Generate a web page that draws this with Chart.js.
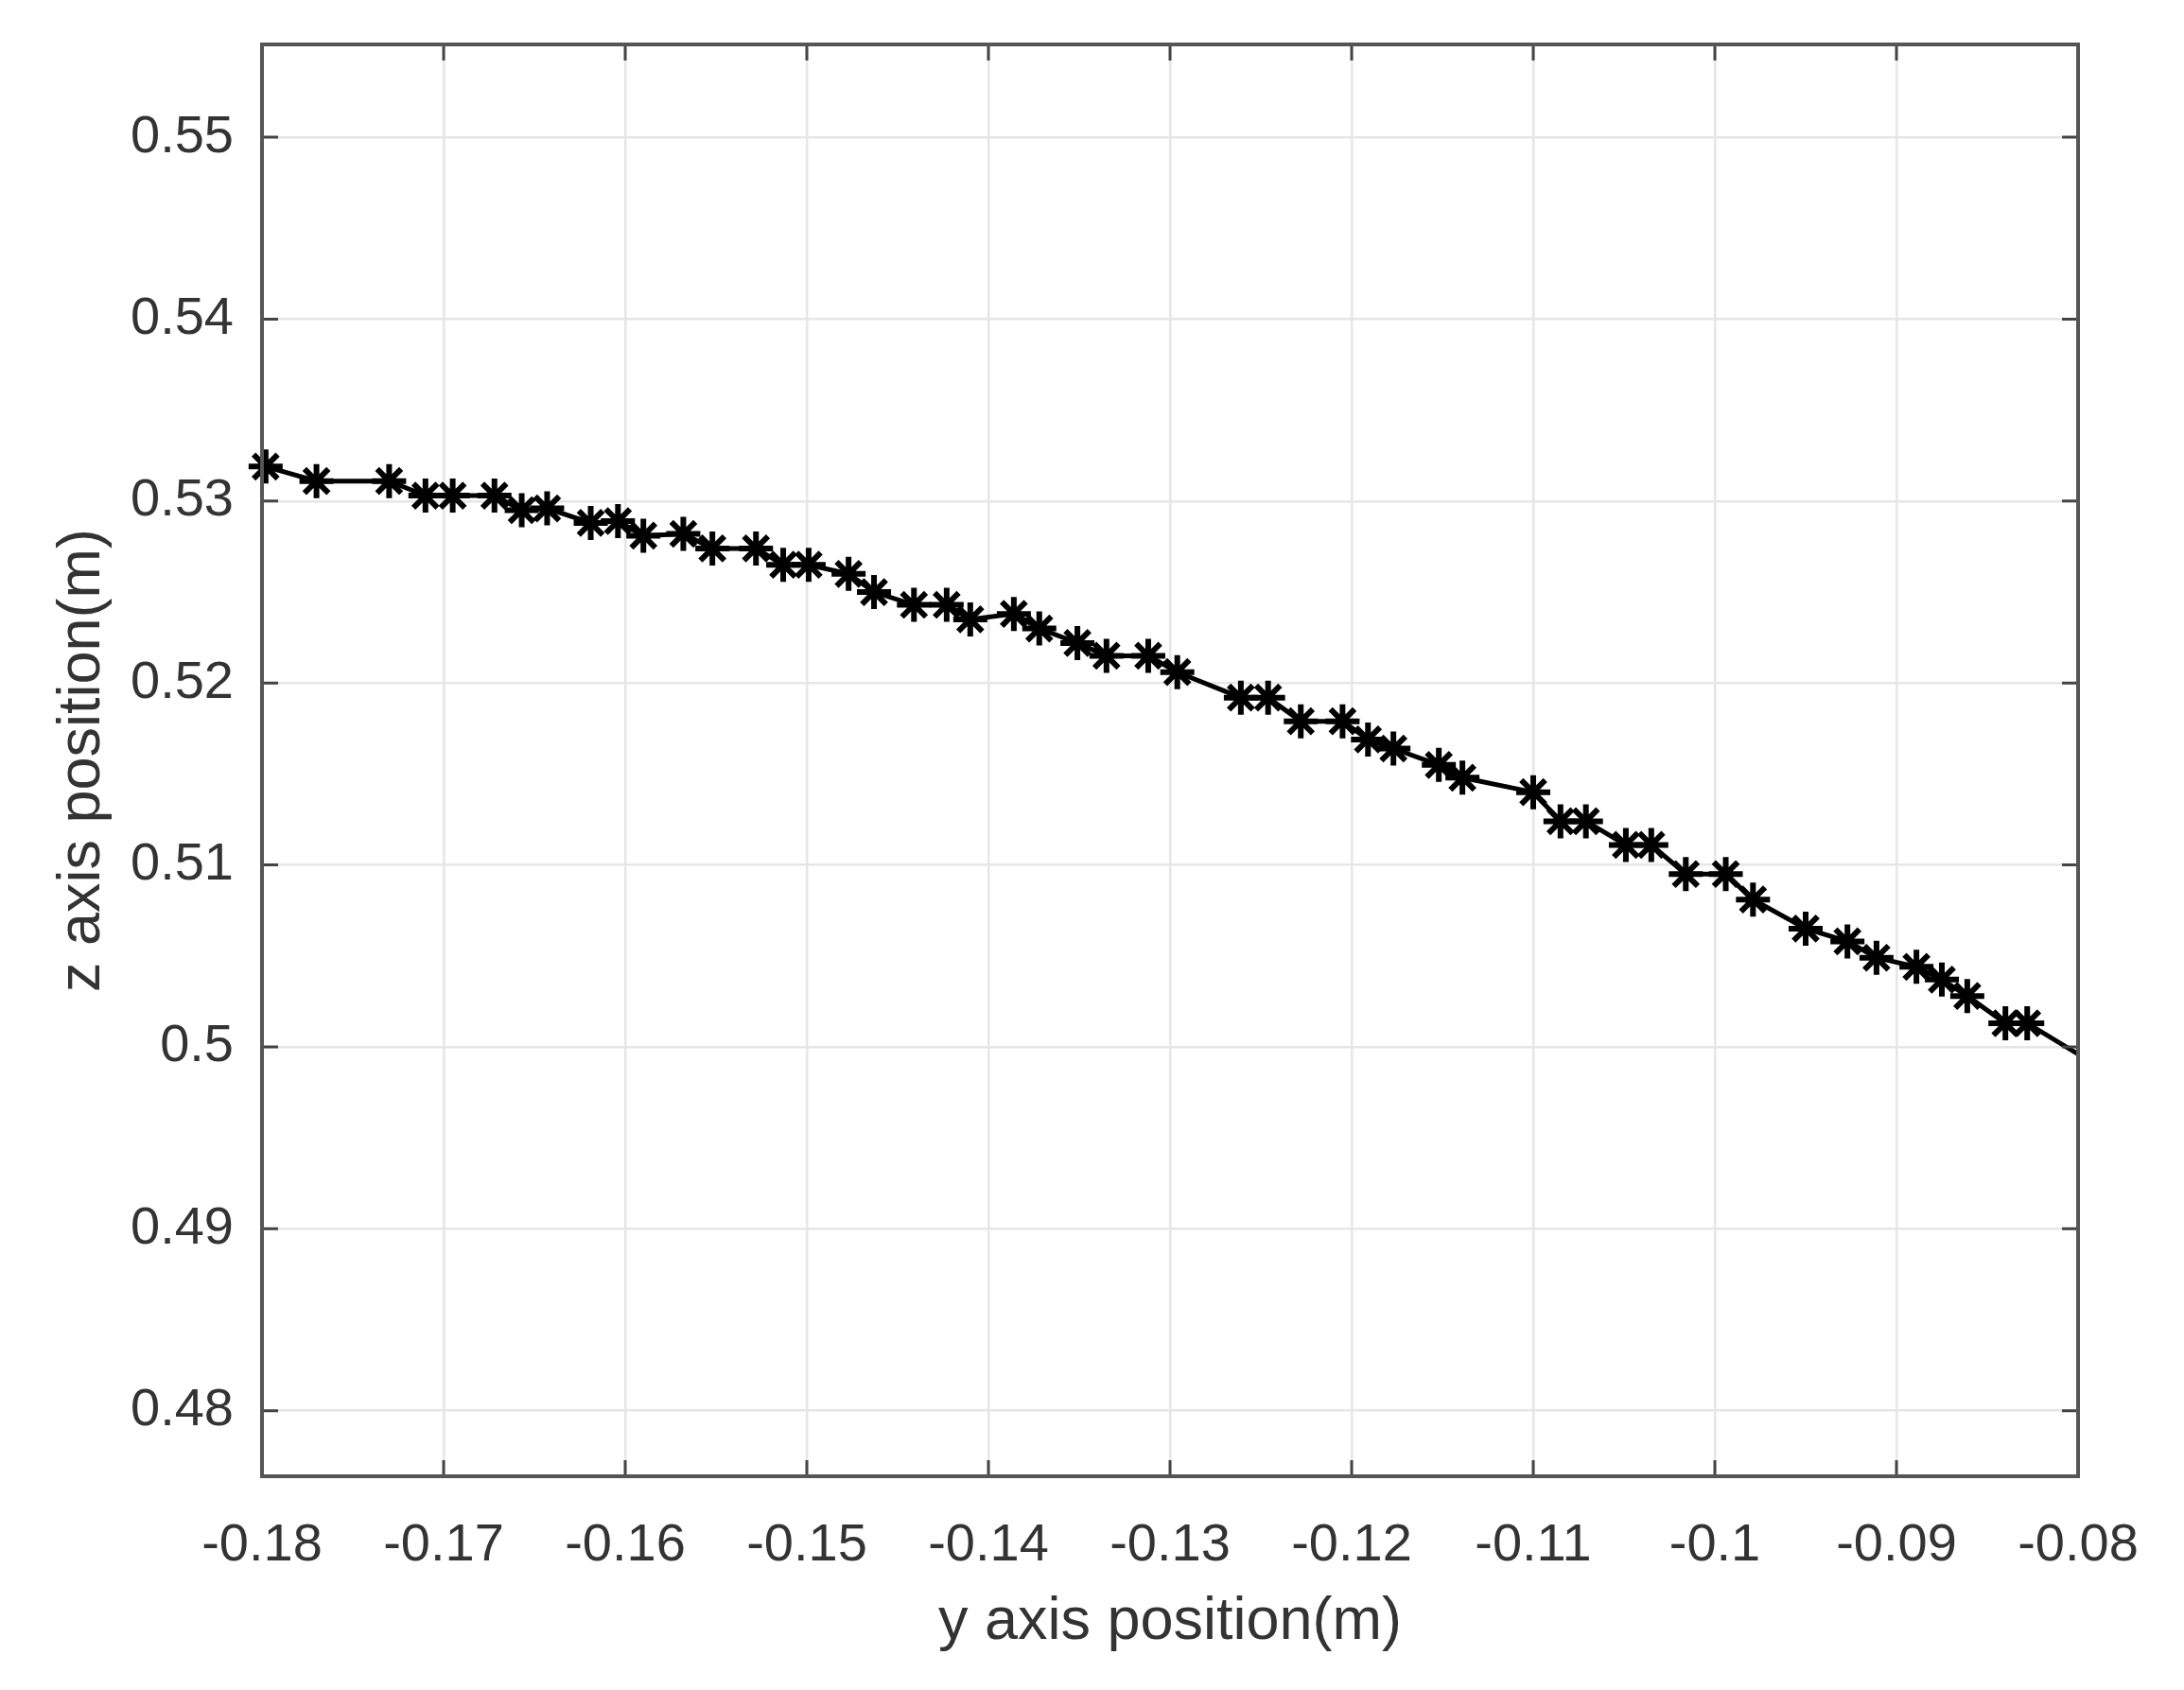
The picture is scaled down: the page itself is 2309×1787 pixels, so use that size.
<!DOCTYPE html>
<html>
  <head>
    <title>y-z position</title>
    <style>
      body { margin: 0; background: #fff; }
      canvas { display: block; }
    </style>
    <script src="https://cdn.jsdelivr.net/npm/chart.js"></script>
  </head>
  <body>
    <canvas id="chart" width="2309" height="1787"></canvas>

    <script>
      // y axis position (m) of each sample
      var yPos = [
        -0.1798, -0.1770, -0.1730, -0.1710, -0.1695, -0.1672, -0.1657, -0.1643,
        -0.1619, -0.1604, -0.1590, -0.1568, -0.1552, -0.1528, -0.1513, -0.1499,
        -0.1477, -0.1463, -0.1441, -0.1423, -0.1410, -0.1386, -0.1372, -0.1351,
        -0.1335, -0.1312, -0.1296, -0.1261, -0.1246, -0.1228, -0.1205, -0.1191,
        -0.1177, -0.1152, -0.1139, -0.1100, -0.1085, -0.1071, -0.1049, -0.1035,
        -0.1016, -0.0994, -0.0979, -0.0950, -0.0927, -0.0911, -0.0889, -0.0875,
        -0.0861, -0.0840, -0.0828, -0.0790
      ];
      // z axis position (m) of each sample
      var zPos = [
        0.5319, 0.5311, 0.5311, 0.5303, 0.5303, 0.5303, 0.5295, 0.5296,
        0.5288, 0.5289, 0.5281, 0.5282, 0.5274, 0.5274, 0.5265, 0.5265,
        0.5260, 0.5250, 0.5243, 0.5243, 0.5235, 0.5238, 0.5230, 0.5222,
        0.5215, 0.5215, 0.5206, 0.5192, 0.5192, 0.5179, 0.5179, 0.5169,
        0.5164, 0.5155, 0.5148, 0.5140, 0.5124, 0.5124, 0.5111, 0.5111,
        0.5095, 0.5095, 0.5081, 0.5065, 0.5058, 0.5049, 0.5044, 0.5037,
        0.5028, 0.5013, 0.5013, 0.4990
      ];
      var xTicks = [-0.18, -0.17, -0.16, -0.15, -0.14, -0.13, -0.12, -0.11, -0.1, -0.09, -0.08];
      var yTicks = [0.48, 0.49, 0.5, 0.51, 0.52, 0.53, 0.54, 0.55];

      var points = yPos.map(function (v, i) {
        return { x: v, y: zPos[i] };
      });

      var textColor = "#333";
      var fontFamily = "'Liberation Sans', Arial, sans-serif";

      // MATLAB style box with inward ticks on all four sides
      var boxTicks = {
        id: "boxTicks",
        afterDraw: function (chart) {
          var ctx = chart.ctx;
          var a = chart.chartArea;
          var xs = chart.scales.x;
          var ys = chart.scales.y;
          var len = 17;
          ctx.save();
          ctx.strokeStyle = "#444";
          ctx.lineWidth = 3;
          ctx.beginPath();
          xs.ticks.forEach(function (t) {
            var px = xs.getPixelForValue(t.value);
            ctx.moveTo(px, a.bottom);
            ctx.lineTo(px, a.bottom - len);
            ctx.moveTo(px, a.top);
            ctx.lineTo(px, a.top + len);
          });
          ys.ticks.forEach(function (t) {
            var py = ys.getPixelForValue(t.value);
            ctx.moveTo(a.left, py);
            ctx.lineTo(a.left + len, py);
            ctx.moveTo(a.right, py);
            ctx.lineTo(a.right - len, py);
          });
          ctx.stroke();
          ctx.lineWidth = 4;
          ctx.strokeStyle = "#555";
          ctx.strokeRect(a.left, a.top, a.right - a.left, a.bottom - a.top);
          ctx.restore();
        },
      };

      function fmt(v) {
        return String(parseFloat(v.toFixed(2)));
      }

      var ctx = document.getElementById("chart").getContext("2d");
      var chart = new Chart(ctx, {
        type: "line",
        data: {
          datasets: [
            {
              data: points,
              borderColor: "#000",
              borderWidth: 5,
              pointStyle: "star",
              pointRadius: 18,
              pointBorderWidth: 6,
              pointBorderColor: "#000",
              pointBackgroundColor: "#000",
              tension: 0,
              clip: { left: 24, top: 24, right: 0, bottom: 24 },
            },
          ],
        },
        options: {
          responsive: false,
          animation: false,
          layout: { padding: { top: 47, right: 112, bottom: 0, left: 0 } },
          plugins: {
            legend: { display: false },
            tooltip: { enabled: false },
          },
          scales: {
            x: {
              type: "linear",
              min: -0.18,
              max: -0.08,
              afterBuildTicks: function (scale) {
                scale.ticks = xTicks.map(function (v) { return { value: v }; });
              },
              afterFit: function (scale) {
                scale.height = 1787 - 1561;
              },
              grid: { color: "#e6e6e6", lineWidth: 2.5, drawTicks: false },
              border: { display: false },
              ticks: {
                padding: 40,
                color: textColor,
                font: { family: fontFamily, size: 56 },
                maxRotation: 0,
                callback: function (v) { return fmt(v); },
              },
              title: {
                display: true,
                text: "y axis position(m)",
                color: textColor,
                font: { family: fontFamily, size: 63 },
                padding: { top: 0, bottom: 34 },
              },
            },
            y: {
              type: "linear",
              min: 0.4764,
              max: 0.5551,
              afterBuildTicks: function (scale) {
                scale.ticks = yTicks.map(function (v) { return { value: v }; });
              },
              afterFit: function (scale) {
                scale.width = 277;
                scale.paddingTop = 0;
                scale.paddingBottom = 0;
              },
              grid: { color: "#e6e6e6", lineWidth: 2.5, drawTicks: false },
              border: { display: false },
              ticks: {
                padding: 30,
                color: textColor,
                font: { family: fontFamily, size: 56 },
                callback: function (v) { return fmt(v); },
              },
              title: {
                display: true,
                text: "z axis position(m)",
                color: textColor,
                font: { family: fontFamily, size: 63 },
                padding: { top: 50, bottom: 0 },
              },
            },
          },
        },
        plugins: [boxTicks],
      });
    </script>
  </body>
</html>
